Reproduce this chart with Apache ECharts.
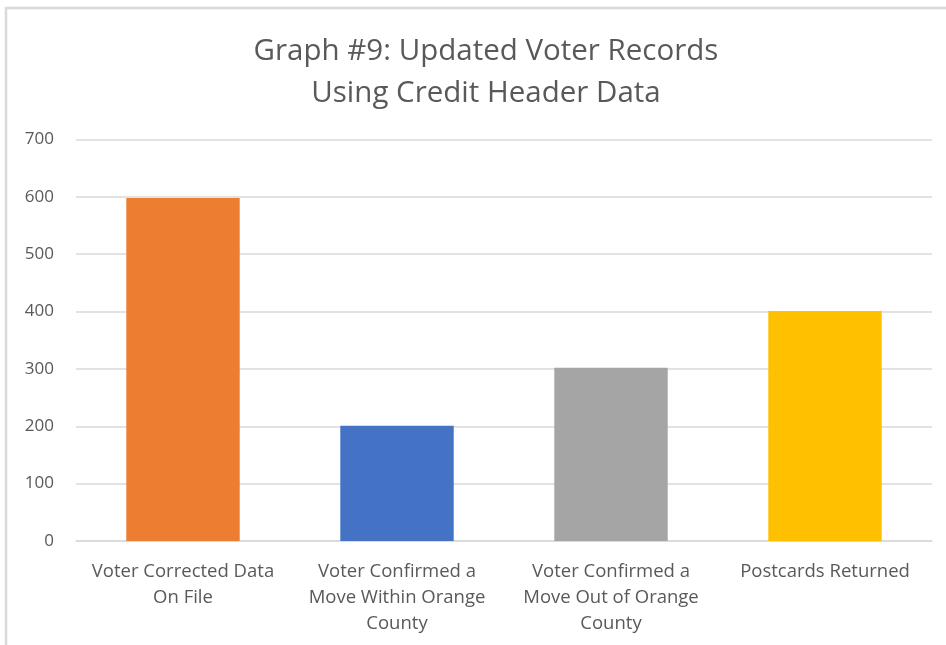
<!DOCTYPE html>
<html><head><meta charset="utf-8">
<script src="https://cdn.jsdelivr.net/npm/echarts@6/dist/echarts.min.js"></script>
<style>html,body{margin:0;padding:0;background:#fff}#c{width:946px;height:645px}</style>
</head><body><div id="c"></div>
<script>
const titleText = "Graph #9: Updated Voter Records\nUsing Credit Header Data";
const categories = ["Voter Corrected Data\nOn File", "Voter Confirmed a\nMove Within Orange\nCounty", "Voter Confirmed a\nMove Out of Orange\nCounty", "Postcards Returned"];
const values = [598, 201, 302, 401];
const barColors = ["#ED7D31", "#4472C4", "#A5A5A5", "#FFC000"];
const yTicks = [0, 100, 200, 300, 400, 500, 600, 700];

const chart = echarts.init(document.getElementById('c'), null, {renderer: 'canvas'});
const font = "'Open Sans', 'Noto Sans', sans-serif";
chart.setOption({
  animation: false,
  backgroundColor: '#fff',
  graphic: [{type: 'rect', shape: {x: 6, y: 8, width: 1000, height: 700}, style: {fill: 'none', stroke: '#d9d9d9', lineWidth: 2.5}, z: 100}],
  title: {text: titleText, left: 481, textAlign: 'center', top: 26, textStyle: {fontFamily: font, fontWeight: 'normal', fontSize: 29.5, color: '#595959', lineHeight: 42}},
  grid: {left: 76, right: 14, top: 139.5, bottom: 104, containLabel: false},
  xAxis: {type: 'category', data: categories,
    axisLine: {show: true, lineStyle: {color: '#d9d9d9', width: 1.5}}, axisTick: {show: false},
    axisLabel: {interval: 0, fontFamily: font, fontSize: 18.5, color: '#595959', lineHeight: 26, margin: 18}},
  yAxis: {type: 'value', min: yTicks[0], max: yTicks[yTicks.length-1], interval: 100,
    axisLine: {show: false}, axisTick: {show: false},
    splitLine: {lineStyle: {color: '#d9d9d9', width: 1.5}},
    axisLabel: {fontFamily: font, fontSize: 17, color: '#595959', margin: 22}},
  series: [{type: 'bar', barWidth: '53%',
    data: values.map((v, i) => ({value: v, itemStyle: {color: barColors[i]}}))}]
});
</script></body></html>
